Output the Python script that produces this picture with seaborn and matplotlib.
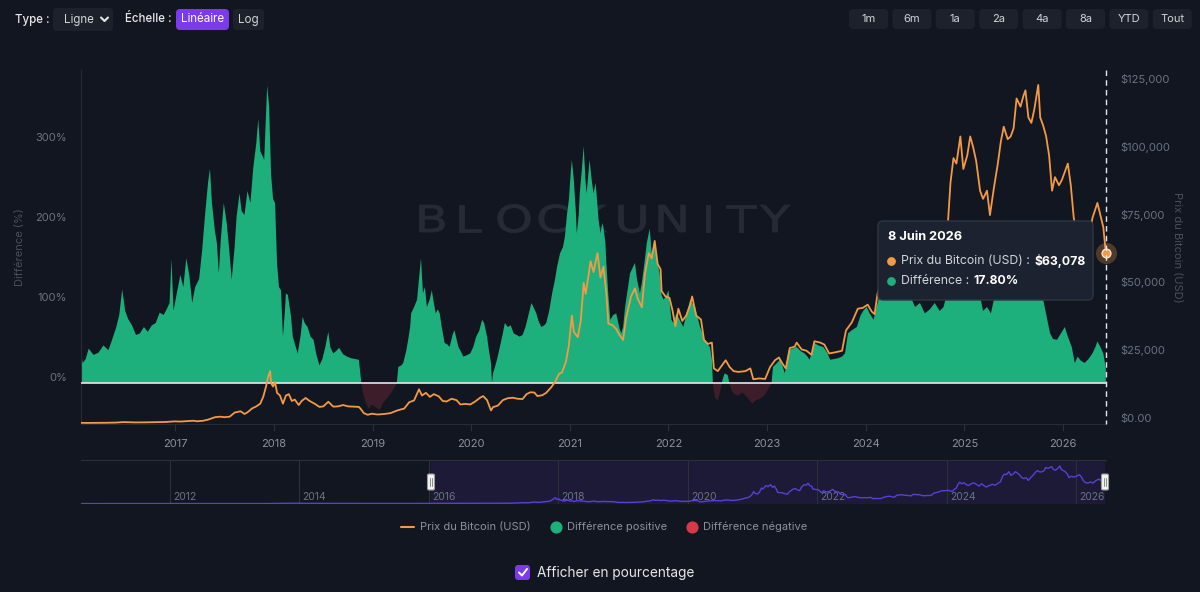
import matplotlib.pyplot as plt
import matplotlib.patches as mpatches
from matplotlib.font_manager import FontProperties
from matplotlib.textpath import TextPath
from matplotlib.transforms import Affine2D
import numpy as np
import pandas as pd
import seaborn as sns

# --- data (decimal years) ----------------------------------------------------
price_t = [
    2016.04, 2016.10, 2016.20, 2016.30, 2016.40, 2016.47, 2016.52, 2016.60, 2016.70, 2016.80,
    2016.90, 2016.99, 2017.05, 2017.12, 2017.18, 2017.22, 2017.28, 2017.33, 2017.40, 2017.45,
    2017.50, 2017.55, 2017.60, 2017.66, 2017.70, 2017.73, 2017.78, 2017.82, 2017.86, 2017.89,
    2017.92, 2017.94, 2017.96, 2017.97, 2017.99, 2018.01, 2018.03, 2018.06, 2018.09, 2018.12,
    2018.15, 2018.18, 2018.21, 2018.25, 2018.28, 2018.32, 2018.36, 2018.41, 2018.46, 2018.50,
    2018.55, 2018.60, 2018.65, 2018.70, 2018.75, 2018.80, 2018.86, 2018.88, 2018.91, 2018.95,
    2018.99, 2019.05, 2019.12, 2019.18, 2019.25, 2019.32, 2019.37, 2019.42, 2019.47, 2019.50,
    2019.54, 2019.58, 2019.62, 2019.67, 2019.71, 2019.75, 2019.80, 2019.85, 2019.89, 2019.94,
    2019.99, 2020.04, 2020.09, 2020.12, 2020.16, 2020.20, 2020.22, 2020.27, 2020.32, 2020.37,
    2020.42, 2020.47, 2020.52, 2020.56, 2020.60, 2020.64, 2020.67, 2020.72, 2020.76, 2020.81,
    2020.85, 2020.89, 2020.92, 2020.96, 2020.99, 2021.02, 2021.04, 2021.08, 2021.11, 2021.14,
    2021.16, 2021.19, 2021.21, 2021.24, 2021.28, 2021.31, 2021.34, 2021.37, 2021.39, 2021.43,
    2021.47, 2021.50, 2021.54, 2021.57, 2021.62, 2021.66, 2021.69, 2021.73, 2021.76, 2021.80,
    2021.83, 2021.86, 2021.89, 2021.92, 2021.93, 2021.97, 2022.01, 2022.04, 2022.07, 2022.10,
    2022.14, 2022.18, 2022.22, 2022.24, 2022.28, 2022.33, 2022.36, 2022.40, 2022.44, 2022.46,
    2022.50, 2022.54, 2022.58, 2022.62, 2022.66, 2022.71, 2022.78, 2022.83, 2022.86, 2022.92,
    2022.98, 2023.03, 2023.08, 2023.12, 2023.16, 2023.19, 2023.23, 2023.28, 2023.30, 2023.35,
    2023.40, 2023.45, 2023.48, 2023.54, 2023.58, 2023.63, 2023.70, 2023.76, 2023.80, 2023.86,
    2023.92, 2023.97, 2024.02, 2024.06, 2024.09, 2024.12, 2024.15, 2024.17, 2024.20, 2024.23,
    2024.27, 2024.30, 2024.34, 2024.38, 2024.42, 2024.46, 2024.50, 2024.54, 2024.58, 2024.61,
    2024.66, 2024.70, 2024.75, 2024.80, 2024.83, 2024.86, 2024.89, 2024.92, 2024.96, 2024.99,
    2025.03, 2025.06, 2025.09, 2025.12, 2025.16, 2025.19, 2025.23, 2025.26, 2025.30, 2025.34,
    2025.37, 2025.40, 2025.44, 2025.47, 2025.50, 2025.53, 2025.57, 2025.60, 2025.62, 2025.65,
    2025.68, 2025.71, 2025.75, 2025.77, 2025.80, 2025.83, 2025.86, 2025.89, 2025.92, 2025.96,
    2025.99, 2026.03, 2026.05, 2026.08, 2026.11, 2026.14, 2026.18, 2026.22, 2026.26, 2026.30,
    2026.35, 2026.38, 2026.41, 2026.435,
]
price_usd = [
    430, 400, 420, 450, 530, 700, 650, 580, 610, 700,
    750, 970, 900, 1050, 1200, 1000, 1200, 1600, 2500, 2700,
    2500, 2700, 4200, 4700, 3700, 4300, 5800, 6500, 7500, 10000,
    14000, 17500, 19500, 15000, 13800, 15500, 11500, 10500, 7500, 10500,
    11000, 8500, 9000, 7000, 8500, 9600, 8500, 7500, 6300, 6500,
    8200, 6400, 6500, 7000, 6500, 6400, 6300, 5500, 4000, 3400,
    3800, 3500, 3700, 4000, 5000, 5700, 8000, 8700, 12800, 10500,
    11500, 10000, 11000, 10200, 8500, 8300, 9300, 8800, 7200, 7400,
    7200, 8300, 9700, 10300, 8800, 5000, 6200, 6800, 8800, 9500,
    9700, 9300, 9200, 11000, 11700, 11600, 10300, 10600, 11500, 13500,
    15500, 18500, 19000, 23000, 29000, 40000, 34000, 32000, 38000, 52000,
    48000, 55000, 60000, 56000, 63000, 54000, 58000, 48000, 37000, 36500,
    35000, 33000, 31000, 39000, 47000, 50000, 46000, 43000, 55000, 63000,
    61000, 67500, 59000, 57000, 49000, 47000, 46500, 42000, 36000, 42500,
    38000, 40000, 44000, 47000, 40000, 38500, 31000, 29500, 30000, 20500,
    19500, 21500, 23500, 21000, 19500, 19200, 19500, 20500, 16500, 16800,
    16600, 21000, 23500, 24500, 22000, 20500, 28000, 28500, 30000, 27500,
    27000, 25500, 30500, 30000, 29300, 26000, 26500, 27000, 34500, 37500,
    42500, 42800, 44000, 41500, 40500, 48000, 52000, 62000, 71000, 66000,
    69000, 63000, 60000, 66000, 69000, 64000, 58000, 66000, 59000, 55000,
    60000, 64000, 61000, 69000, 72000, 89000, 98000, 96000, 106000, 94000,
    99000, 106000, 102000, 97000, 86000, 83000, 86000, 77000, 87000, 96000,
    104000, 109600, 105000, 106000, 109000, 120000, 117000, 121000, 123000, 113000,
    111000, 116000, 125000, 113000, 110000, 106000, 99000, 86000, 91000, 88000,
    90000, 94000, 96000, 88000, 76000, 70000, 68000, 72000, 68000, 76000,
    81500, 77000, 72500, 63078,
]

diff_t = [
    2016.04, 2016.06, 2016.09, 2016.12, 2016.17, 2016.22, 2016.27, 2016.32, 2016.36, 2016.40,
    2016.43, 2016.46, 2016.49, 2016.52, 2016.56, 2016.60, 2016.64, 2016.68, 2016.72, 2016.76,
    2016.80, 2016.84, 2016.88, 2016.91, 2016.94, 2016.96, 2016.98, 2017.01, 2017.05, 2017.08,
    2017.11, 2017.14, 2017.17, 2017.20, 2017.24, 2017.27, 2017.30, 2017.33, 2017.35, 2017.37,
    2017.40, 2017.42, 2017.44, 2017.46, 2017.49, 2017.52, 2017.55, 2017.57, 2017.60, 2017.62,
    2017.65, 2017.67, 2017.70, 2017.73, 2017.76, 2017.79, 2017.82, 2017.84, 2017.86, 2017.90,
    2017.93, 2017.95, 2017.97, 2017.99, 2018.01, 2018.03, 2018.05, 2018.07, 2018.09, 2018.11,
    2018.12, 2018.14, 2018.17, 2018.19, 2018.22, 2018.24, 2018.27, 2018.29, 2018.31, 2018.34,
    2018.37, 2018.40, 2018.43, 2018.46, 2018.49, 2018.52, 2018.55, 2018.57, 2018.60, 2018.63,
    2018.66, 2018.70, 2018.74, 2018.78, 2018.82, 2018.86, 2018.885, 2018.90, 2018.93, 2018.96,
    2018.99, 2019.03, 2019.07, 2019.10, 2019.14, 2019.18, 2019.22, 2019.245, 2019.26, 2019.29,
    2019.31, 2019.34, 2019.36, 2019.38, 2019.39, 2019.42, 2019.45, 2019.47, 2019.49, 2019.51,
    2019.53, 2019.55, 2019.58, 2019.60, 2019.62, 2019.64, 2019.66, 2019.68, 2019.70, 2019.73,
    2019.76, 2019.78, 2019.81, 2019.83, 2019.85, 2019.87, 2019.90, 2019.92, 2019.96, 2019.99,
    2020.02, 2020.05, 2020.08, 2020.11, 2020.13, 2020.16, 2020.18, 2020.20, 2020.21, 2020.22,
    2020.24, 2020.26, 2020.29, 2020.32, 2020.34, 2020.37, 2020.40, 2020.43, 2020.46, 2020.49,
    2020.52, 2020.55, 2020.58, 2020.61, 2020.63, 2020.66, 2020.68, 2020.71, 2020.74, 2020.76,
    2020.79, 2020.82, 2020.85, 2020.87, 2020.90, 2020.93, 2020.95, 2020.97, 2020.99, 2021.01,
    2021.02, 2021.04, 2021.06, 2021.07, 2021.09, 2021.10, 2021.12, 2021.14, 2021.16, 2021.17,
    2021.19, 2021.20, 2021.22, 2021.24, 2021.26, 2021.27, 2021.29, 2021.31, 2021.33, 2021.34,
    2021.36, 2021.37, 2021.39, 2021.41, 2021.44, 2021.47, 2021.50, 2021.52, 2021.54, 2021.56,
    2021.59, 2021.61, 2021.64, 2021.66, 2021.68, 2021.71, 2021.73, 2021.76, 2021.78, 2021.81,
    2021.83, 2021.86, 2021.88, 2021.91, 2021.93, 2021.95, 2021.98, 2022.00, 2022.03, 2022.05,
    2022.08, 2022.11, 2022.15, 2022.18, 2022.22, 2022.24, 2022.27, 2022.30, 2022.32, 2022.35,
    2022.37, 2022.40, 2022.42, 2022.44, 2022.45, 2022.47, 2022.50, 2022.53, 2022.55, 2022.57,
    2022.60, 2022.62, 2022.65, 2022.70, 2022.75, 2022.80, 2022.85, 2022.88, 2022.92, 2022.97,
    2023.01, 2023.045, 2023.06, 2023.10, 2023.13, 2023.16, 2023.18, 2023.22, 2023.26, 2023.30,
    2023.34, 2023.38, 2023.41, 2023.43, 2023.46, 2023.48, 2023.52, 2023.57, 2023.61, 2023.64,
    2023.68, 2023.72, 2023.76, 2023.79, 2023.82, 2023.86, 2023.91, 2023.95, 2023.98, 2024.01,
    2024.04, 2024.08, 2024.11, 2024.13, 2024.16, 2024.20, 2024.25, 2024.30, 2024.35, 2024.40,
    2024.45, 2024.50, 2024.55, 2024.60, 2024.65, 2024.70, 2024.75, 2024.79, 2024.83, 2024.87,
    2024.92, 2024.96, 2025.00, 2025.05, 2025.10, 2025.15, 2025.19, 2025.23, 2025.27, 2025.31,
    2025.36, 2025.42, 2025.48, 2025.54, 2025.60, 2025.66, 2025.72, 2025.76, 2025.80, 2025.84,
    2025.87, 2025.90, 2025.94, 2025.98, 2026.02, 2026.05, 2026.09, 2026.12, 2026.15, 2026.18,
    2026.22, 2026.26, 2026.30, 2026.33, 2026.35, 2026.38, 2026.41, 2026.435,
]
diff_pct = [
    38, 25, 30, 43, 35, 38, 47, 41, 55, 70,
    85, 117, 90, 80, 72, 60, 62, 70, 64, 72,
    75, 88, 85, 92, 100, 155, 90, 110, 135, 120,
    156, 135, 100, 120, 130, 165, 210, 250, 268, 225,
    190, 175, 137, 180, 225, 200, 160, 129, 170, 208,
    237, 215, 210, 240, 225, 270, 300, 330, 290, 279,
    372, 345, 260, 230, 225, 150, 120, 116, 58, 90,
    112, 110, 85, 58, 45, 37, 60, 83, 75, 70,
    58, 54, 35, 22, 30, 45, 64, 45, 37, 40,
    44, 36, 33, 31, 30, 29, 0, -12, -25, -32,
    -27, -30, -34, -26, -20, -14, -6, 0, 20, 22,
    25, 40, 54, 70, 87, 95, 104, 130, 156, 112,
    120, 95, 105, 116, 100, 87, 92, 87, 70, 50,
    48, 45, 60, 66, 55, 45, 38, 33, 35, 37,
    45, 58, 65, 79, 75, 58, 40, 25, 0, 12,
    20, 29, 45, 62, 75, 70, 72, 62, 60, 58,
    60, 70, 85, 100, 95, 87, 78, 70, 72, 75,
    90, 112, 130, 145, 162, 170, 183, 210, 229, 265,
    279, 254, 215, 187, 210, 237, 265, 296, 250, 237,
    265, 279, 255, 237, 250, 237, 205, 187, 200, 195,
    175, 150, 110, 79, 85, 87, 70, 62, 70, 95,
    120, 137, 145, 150, 130, 112, 125, 154, 175, 193,
    162, 177, 155, 137, 110, 104, 110, 116, 79, 75,
    87, 80, 70, 85, 104, 100, 95, 80, 70, 60,
    54, 48, 45, 30, 0, -18, -22, -8, 5, 12,
    10, -2, -12, -16, -12, -18, -26, -22, -20, -16,
    -8, 0, 20, 25, 29, 20, 12, 41, 43, 45,
    40, 37, 33, 29, 40, 50, 47, 45, 38, 29,
    30, 31, 33, 37, 62, 66, 70, 85, 91, 95,
    87, 79, 95, 104, 130, 165, 150, 130, 115, 125,
    110, 95, 100, 87, 92, 100, 90, 95, 115, 150,
    165, 175, 160, 165, 150, 115, 90, 95, 87, 110,
    135, 140, 130, 150, 145, 125, 130, 140, 104, 80,
    62, 55, 54, 62, 70, 58, 45, 25, 33, 28,
    25, 30, 37, 45, 52, 45, 37, 17.8,
]

# navigator: price history before the zoomed window
nav_pre_t = [2010.55, 2011.45, 2011.90, 2013.25, 2013.50, 2013.92, 2014.20, 2014.90, 2015.50, 2015.95]
nav_pre_usd = [0.07, 30, 3, 230, 100, 1100, 600, 320, 250, 430]

year_ticks = list(range(2017, 2027))
nav_years = [2012, 2014, 2016, 2018, 2020, 2022, 2024, 2026]
pct_ticks = [0, 100, 200, 300]
usd_ticks = [0, 25000, 50000, 75000, 100000, 125000]
usd_labels = ["$0.00", "$25,000", "$50,000", "$75,000", "$100,000", "$125,000"]
range_buttons = ["1m", "6m", "1a", "2a", "4a", "8a", "YTD", "Tout"]
tip_date = "8 Juin 2026"
tip_price = "$63,078"
tip_diff = "17.80%"

# --- style -----------------------------------------------------------------
BG = "#121620"
GREEN = "#1db07c"
ORANGE = "#f39a45"
RED = "#d63a4a"
PURPLE = "#7c3aed"
GREY = "#6b7280"
BTN = "#1c212c"

sns.set_theme(style="dark", rc={"axes.facecolor": BG, "figure.facecolor": BG})
plt.rcParams["font.family"] = ["Inter", "DejaVu Sans"]

price_df = pd.DataFrame({"t": price_t, "usd": price_usd})
diff_df = pd.DataFrame({"t": diff_t, "pct": diff_pct})
nav_df = pd.concat([pd.DataFrame({"t": nav_pre_t, "usd": nav_pre_usd}), price_df], ignore_index=True)

W, H = 1200, 592
fig = plt.figure(figsize=(W / 100, H / 100), dpi=100)

# main chart, pixel box 81..1106 x 70..424
ax = fig.add_axes([81 / W, 1 - 424 / H, 1025 / W, 354 / H])
ax.set_xlim(2016.042, 2026.437)
ax.set_ylim(-51.25, 391.25)

d = diff_df["pct"].to_numpy()
ax.fill_between(diff_df["t"], d, 0, where=d >= 0, interpolate=True, color=GREEN, lw=0, zorder=2)
ax.fill_between(diff_df["t"], d, 0, where=d <= 0, interpolate=True, color=RED, alpha=0.22, lw=0, zorder=2)
ax.axhline(0, color="#e5e7eb", lw=1.2, zorder=3)

# watermark, behind the data: wide letters, centres in pixels
wm_prop = FontProperties(family="DejaVu Sans")
for ch, cx in zip("BLOCKUNITY", [432, 470, 514, 553, 593, 632, 672, 708, 741, 775]):
    tp = TextPath((0, 0), ch, size=37, prop=wm_prop)
    ext = tp.get_extents()
    sx = 1.3
    tr = Affine2D().translate(-(ext.x0 + ext.x1) / 2, 0).scale(sx, 1).translate(cx, H - 232)
    ax.add_patch(mpatches.PathPatch(tp, transform=tr, fc="#262a34", ec="#262a34", lw=0.6, zorder=0))

ax.set_xticks(year_ticks, labels=[str(y) for y in year_ticks])
ax.set_yticks(pct_ticks, labels=[f"{p}%" for p in pct_ticks])
ax.tick_params(axis="x", length=5, width=0.8, color="#2b303b", labelcolor="#8c919c", labelsize=8, pad=6, bottom=True)
ax.tick_params(axis="y", length=0, pad=10, labelcolor=GREY, labelsize=8)
for lab in ax.get_yticklabels():
    lab.set_va("bottom")
for side in ["top", "right"]:
    ax.spines[side].set_visible(False)
for side in ["left", "bottom"]:
    ax.spines[side].set_color("#262b36")
    ax.spines[side].set_linewidth(0.8)
ax.set_ylabel("Différence (%)", color="#4a4f5c", fontsize=8)
ax.yaxis.set_label_coords(-0.0546, 0.5)
ax.set_xlabel("")

ax2 = ax.twinx()
ax2.set_ylim(0, 130500)
sns.lineplot(data=price_df, x="t", y="usd", ax=ax2, color=ORANGE, linewidth=1.3, zorder=4)
ax2.scatter([price_t[-1]], [price_usd[-1]], s=230, color=ORANGE, alpha=0.28, lw=0, zorder=5, clip_on=False)
ax2.scatter([price_t[-1]], [price_usd[-1]], s=40, color=ORANGE, edgecolor="#fde2c4", lw=1, zorder=6, clip_on=False)
ax2.set_xlim(2016.042, 2026.437)
ax2.set_yticks(usd_ticks, labels=usd_labels)
ax2.tick_params(axis="y", length=0, pad=10, labelcolor=GREY, labelsize=8)
for lab in ax2.get_yticklabels():
    lab.set_va("bottom")
for s in ax2.spines.values():
    s.set_visible(False)
ax2.set_ylabel("Prix du Bitcoin (USD)", color="#4a4f5c", fontsize=8, rotation=270, labelpad=0)
ax2.yaxis.set_label_coords(1.074, 0.5)
ax2.set_xlabel("")
ax2.grid(False)
ax.grid(False)

# navigator, pixel box 81..1106 x 460..504
nav = fig.add_axes([81 / W, 1 - 504 / H, 1025 / W, 44 / H])
nav.set_xlim(2010.633, 2026.46)
nav.set_ylim(-1500, 145000)
nav.axvspan(2016.042, 2026.437, color="#1c1a37", lw=0, zorder=0)
for y in nav_years:
    nav.axvline(y, color="#2b303b", lw=0.8, zorder=1)
    nav.text(y + 0.05, 0.16, str(y), transform=nav.get_xaxis_transform(), ha="left", va="center",
             color=GREY, fontsize=7.5, zorder=2)
sns.lineplot(data=nav_df, x="t", y="usd", ax=nav, color="#5a3fd4", linewidth=1, zorder=3)
nav.set_xticks([])
nav.set_yticks([])
nav.set_xlabel("")
nav.set_ylabel("")
for side, s in nav.spines.items():
    s.set_visible(side == "top")
    s.set_color("#2b303b")
    s.set_linewidth(0.8)
nav.grid(False)

# overlay in pixel coordinates for the UI parts
ov = fig.add_axes([0, 0, 1, 1])
ov.set_xlim(0, W)
ov.set_ylim(H, 0)
ov.axis("off")
ov.patch.set_alpha(0)


def box(x, y, w, h, fc, r=4, ec="none", lw=0):
    ov.add_patch(mpatches.FancyBboxPatch((x, y), w, h, boxstyle=f"round,pad=0,rounding_size={r}",
                                         fc=fc, ec=ec, lw=lw))


# top-left controls
ov.text(15, 19.5, "Type :", color="#e5e7eb", fontsize=8.3, va="center", fontweight="medium")
box(53, 8, 60, 23, BTN)
ov.text(64, 19.5, "Ligne", color="#d1d5db", fontsize=8.3, va="center")
ov.plot([101, 104.5, 108], [17.5, 21, 17.5], color="#e5e7eb", lw=1.5, solid_capstyle="round")
ov.text(125, 19.5, "Échelle :", color="#e5e7eb", fontsize=8.3, va="center", fontweight="medium")
box(176, 9, 53, 21, PURPLE)
ov.text(202.5, 19.5, "Linéaire", color="white", fontsize=8.3, va="center", ha="center")
box(233, 9, 31, 21, BTN)
ov.text(248.5, 19.5, "Log", color="#d1d5db", fontsize=8.3, va="center", ha="center")

# range buttons
for i, lab in enumerate(range_buttons):
    x0 = 849 + i * 43.4
    box(x0, 9, 39, 20, BTN)
    ov.text(x0 + 19.5, 19.5, lab, color="#d1d5db", fontsize=8, va="center", ha="center")

# crosshair
ov.plot([1106, 1106], [70, 424], color="#e5e7eb", lw=1, ls=(0, (4, 3)))

# tooltip
box(878, 221, 215, 79, "#1d2230", r=5, ec="#2f3542", lw=1)
ov.text(888, 237, tip_date, color="white", fontsize=9.2, fontweight="bold", va="center")
ov.scatter([891], [261], s=28, color=ORANGE, zorder=5)
ov.scatter([891], [281], s=28, color=GREEN, zorder=5)
t1 = ov.text(901, 261, "Prix du Bitcoin (USD) :", color="#d1d5db", fontsize=8.8, va="center")
ov.annotate(tip_price, xy=(1, 0.5), xycoords=t1, xytext=(3, 0), textcoords="offset points",
            va="center", ha="left", color="white", fontsize=8.8, fontweight="bold")
t2 = ov.text(901, 281, "Différence :", color="#d1d5db", fontsize=8.8, va="center")
ov.annotate(tip_diff, xy=(1, 0.5), xycoords=t2, xytext=(3, 0), textcoords="offset points",
            va="center", ha="left", color="white", fontsize=8.8, fontweight="bold")

# navigator handles
for hx in (431, 1105):
    box(hx - 3.5, 474, 7, 16, "#f2f2f2", r=1.5, ec="#9a9a9a", lw=0.8)
    ov.plot([hx - 1, hx - 1], [478, 486], color="#8a8a8a", lw=0.7)
    ov.plot([hx + 1, hx + 1], [478, 486], color="#8a8a8a", lw=0.7)

# legend
ov.plot([401, 414], [527, 527], color=ORANGE, lw=1.5)
ov.text(420, 527, "Prix du Bitcoin (USD)", color="#8c919c", fontsize=8, va="center")
ov.scatter([556], [527], s=60, color=GREEN)
ov.text(567, 527, "Différence positive", color="#8c919c", fontsize=8, va="center")
ov.scatter([692], [527], s=60, color=RED)
ov.text(703, 527, "Différence négative", color="#8c919c", fontsize=8, va="center")

# checkbox
box(515, 565, 15, 15, PURPLE, r=3)
ov.plot([519, 522, 527], [572.5, 575.5, 569], color="white", lw=1.4, solid_capstyle="round")
ov.text(537, 573, "Afficher en pourcentage", color="#e5e7eb", fontsize=9.8, va="center")

fig.savefig("out.png", dpi=100, facecolor=BG)
